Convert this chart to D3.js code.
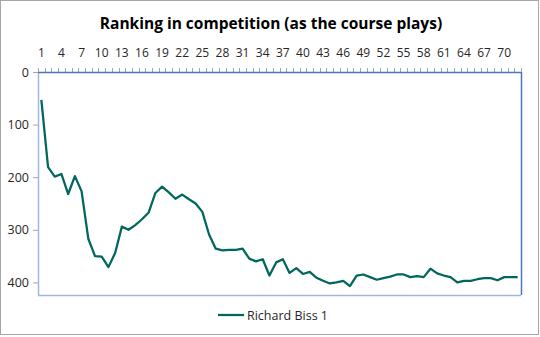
<!DOCTYPE html>
<html>
<head>
<meta charset="utf-8">
<script src="https://cdn.jsdelivr.net/npm/d3@7"></script>
<style>
  body { margin: 0; background: #fff; }
  svg { display: block; font-family: "Open Sans", "Noto Sans", sans-serif; }
</style>
</head>
<body>
<svg id="chart" width="540" height="337"></svg>
<script>
// ranking per hole played
var holes = d3.range(1, 73);
var ranking = [53, 181, 199, 194, 232, 198, 227, 317, 350, 351,
               371, 344, 294, 300, 291, 280, 267, 230, 218, 229,
               241, 233, 242, 250, 266, 309, 336, 339, 338, 338,
               336, 355, 360, 356, 387, 362, 356, 382, 373, 384,
               380, 391, 397, 402, 400, 397, 407, 387, 385, 390,
               395, 392, 389, 385, 385, 390, 388, 390, 374, 383,
               387, 390, 400, 397, 397, 394, 392, 392, 396, 390,
               390, 390];
var yTicks = [0, 100, 200, 300, 400];
var seriesName = "Richard Biss 1";

var svg = d3.select("#chart");
// plot area (note: "top" is reserved on window, so use pTop etc.)
var pLeft = 38, pRight = 521, pTop = 72, pBottom = 295;

// outer frame
svg.append("rect")
  .attr("x", 0.5).attr("y", 0.5)
  .attr("width", 538).attr("height", 334)
  .attr("fill", "#fff").attr("stroke", "#a6a6a6");

svg.append("text")
  .attr("x", 271).attr("y", 29)
  .attr("text-anchor", "middle")
  .attr("font-size", "15.5px").attr("font-weight", "bold")
  .attr("fill", "#000")
  .text("Ranking in competition (as the course plays)");

var x = d3.scaleBand().domain(holes).range([pLeft, pRight]);
var y = d3.scaleLinear().domain([0, 424]).range([pTop, pBottom]);

// minor ticks at every category boundary, on the top axis
var bounds = holes.map(function (d) { return x(d); }).concat([pRight]);
svg.append("g").selectAll("line")
  .data(bounds).enter()
  .append("line")
  .attr("x1", function (d) { return Math.round(d) + 0.5; })
  .attr("x2", function (d) { return Math.round(d) + 0.5; })
  .attr("y1", pTop - 4).attr("y2", pTop)
  .attr("stroke", "#a6a6a6");

// x labels every third hole
svg.append("g").selectAll("text")
  .data(holes.filter(function (d) { return (d - 1) % 3 === 0; })).enter()
  .append("text")
  .attr("x", function (d) { return x(d) + x.bandwidth() / 2; })
  .attr("y", 57)
  .attr("text-anchor", "middle")
  .attr("font-size", "12px").attr("fill", "#262626")
  .text(function (d) { return d; });

// y axis
var yAxis = svg.append("g")
  .attr("transform", "translate(" + pLeft + ",0)")
  .call(d3.axisLeft(y).tickValues(yTicks).tickSize(5).tickPadding(4));
yAxis.select(".domain").remove();
yAxis.selectAll(".tick line").attr("stroke", "#a6a6a6");
yAxis.selectAll(".tick text")
  .attr("font-size", "12.5px").attr("fill", "#262626")
  .attr("font-family", "\"Open Sans\", sans-serif");

// plot border
svg.append("line").attr("x1", pLeft + 0.5).attr("x2", pLeft + 0.5)
  .attr("y1", pTop).attr("y2", pBottom).attr("stroke", "#9eb5e5").attr("stroke-width", 1.5);
svg.append("line").attr("x1", pLeft).attr("x2", pRight)
  .attr("y1", pBottom + 0.5).attr("y2", pBottom + 0.5).attr("stroke", "#9eb5e5").attr("stroke-width", 1.5);
svg.append("line").attr("x1", pLeft).attr("x2", pRight)
  .attr("y1", pTop + 0.5).attr("y2", pTop + 0.5).attr("stroke", "#4a74c9").attr("stroke-width", 1.5);
svg.append("line").attr("x1", pRight + 0.5).attr("x2", pRight + 0.5)
  .attr("y1", pTop).attr("y2", pBottom).attr("stroke", "#4a74c9").attr("stroke-width", 1.5);

var line = d3.line()
  .x(function (d, i) { return x(holes[i]) + x.bandwidth() / 2; })
  .y(function (d) { return y(d); });

svg.append("path")
  .datum(ranking)
  .attr("d", line)
  .attr("fill", "none")
  .attr("stroke", "#00665e")
  .attr("stroke-width", 2.25)
  .attr("stroke-linejoin", "round");

// legend
var lg = svg.append("g").attr("transform", "translate(218,315)");
lg.append("line").attr("x1", 0).attr("x2", 26)
  .attr("stroke", "#00665e").attr("stroke-width", 2.25);
lg.append("text").attr("x", 29).attr("y", 4.5)
  .attr("font-size", "12.5px").attr("fill", "#262626")
  .text(seriesName);
</script>
</body>
</html>
